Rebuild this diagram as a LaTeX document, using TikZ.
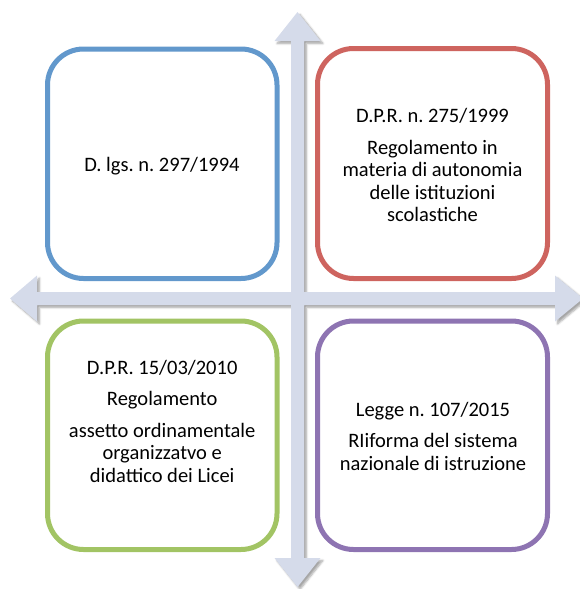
\documentclass[tikz,border=0pt]{standalone}
\usepackage{fontspec}
\setmainfont{Carlito}
\usetikzlibrary{shadows.blur}
\definecolor{arrowfill}{RGB}{213,219,234}
\definecolor{cblue}{RGB}{98,152,204}
\definecolor{cred}{RGB}{206,100,95}
\definecolor{cgreen}{RGB}{162,196,100}
\definecolor{cpurple}{RGB}{142,116,178}
\tikzset{
  card/.style={draw=#1, line width=5pt, fill=white, rounded corners=36pt},
  cardtext/.style={align=center, inner sep=0pt, font=\fontsize{20.5}{22.3}\selectfont\frenchspacing},
}
\begin{document}
\begin{tikzpicture}[x=1pt,y=-1pt]
\useasboundingbox (0,0) rectangle (580,589);
\clip (0,0) rectangle (580,589);
% cross of arrows
\fill[arrowfill, blur shadow={shadow xshift=2.5pt, shadow yshift=-2.5pt, shadow blur steps=6, shadow opacity=35}]
  (297.5,12) -- (320.5,41) -- (304,41) -- (304,292) -- (555,292) -- (555,275.5)
  -- (583,298.5) -- (555,321.5) -- (555,305) -- (304,305) -- (304,558)
  -- (320.5,558) -- (297.5,587) -- (274.5,558) -- (291,558) -- (291,305)
  -- (37,305) -- (37,321.5) -- (10,298.5) -- (37,275.5) -- (37,292)
  -- (291,292) -- (291,41) -- (274.5,41) -- cycle;
% boxes
\draw[card=cblue]   (47.5,49)  rectangle (277,278.5);
\draw[card=cred]    (317.5,48.5) rectangle (547.5,278.5);
\draw[card=cgreen]  (47.5,321) rectangle (277,549.5);
\draw[card=cpurple] (317.5,321) rectangle (547.5,549.5);
% texts
\node[cardtext, anchor=base] (t1) at (162,171.7) {D. lgs. n. 297/1994};
\node[cardtext] (t2) at (432.5,165) {D.P.R. n. 275/1999\\[9.4pt]Regolamento in\\materia di autonomia\\delle istituzioni\\scolastiche};
\node[cardtext] (t3) at (162.2,421) {D.P.R. 15/03/2010\\[9.4pt]Regolamento\\[9.4pt]assetto ordinamentale\\organizzatvo e\\didattico dei Licei};
\node[cardtext] (t4) at (433,436) {Legge n. 107/2015\\[9.4pt]RIiforma del sistema\\nazionale di istruzione};
\end{tikzpicture}
\end{document}
